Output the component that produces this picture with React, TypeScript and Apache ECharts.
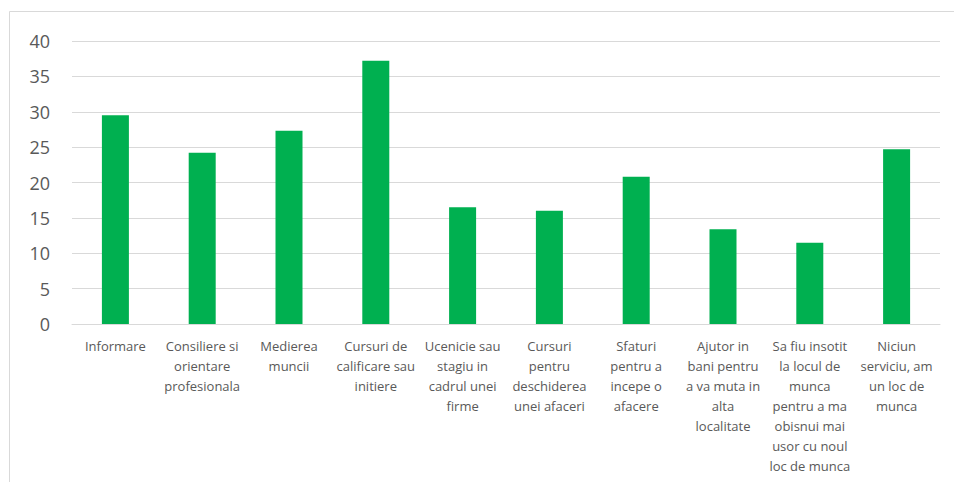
import React, { useEffect, useRef } from "react";
import * as echarts from "echarts";

const categories = [
  "Informare",
  "Consiliere si\norientare\nprofesionala",
  "Medierea\nmuncii",
  "Cursuri de\ncalificare sau\ninitiere",
  "Ucenicie sau\nstagiu in\ncadrul unei\nfirme",
  "Cursuri\npentru\ndeschiderea\nunei afaceri",
  "Sfaturi\npentru a\nincepe o\nafacere",
  "Ajutor in\nbani pentru\na va muta in\nalta\nlocalitate",
  "Sa fiu insotit\nla locul de\nmunca\npentru a ma\nobisnui mai\nusor cu noul\nloc de munca",
  "Niciun\nserviciu, am\nun loc de\nmunca",
];

const values = [29.5, 24.2, 27.3, 37.2, 16.5, 16.0, 20.8, 13.4, 11.5, 24.7];

const yMin = 0;
const yMax = 40;
const yStep = 5;

export default function App() {
  const ref = useRef<HTMLDivElement>(null);
  useEffect(() => {
    if (!ref.current) return;
    const chart = echarts.init(ref.current, undefined, { renderer: "svg" });
    chart.setOption({
      animation: false,
      backgroundColor: "#ffffff",
      graphic: [
        {
          type: "rect",
          shape: { x: 9.5, y: 11.5, width: 1000, height: 600 },
          style: { fill: "none", stroke: "#d9d9d9", lineWidth: 1 },
          silent: true,
        },
      ],
      grid: { left: 72, right: 14, top: 41, bottom: 158, containLabel: false },
      xAxis: {
        type: "category",
        data: categories,
        axisLine: { show: true, lineStyle: { color: "#d9d9d9", width: 1 } },
        axisTick: { show: false },
        axisLabel: {
          interval: 0,
          color: "#595959",
          fontFamily: "Open Sans",
          fontSize: 13,
          lineHeight: 20,
          margin: 12,
          align: "center",
        },
      },
      yAxis: {
        type: "value",
        min: yMin,
        max: yMax,
        interval: yStep,
        axisLine: { show: false },
        axisTick: { show: false },
        splitLine: { lineStyle: { color: "#d9d9d9", width: 1 } },
        axisLabel: {
          color: "#595959",
          fontFamily: "Open Sans",
          fontSize: 18,
          margin: 22,
        },
      },
      series: [
        {
          type: "bar",
          data: values,
          barWidth: 27,
          itemStyle: { color: "#00b050" },
        },
      ],
    });
    return () => chart.dispose();
  }, []);
  return (
    <div
      ref={ref}
      style={{ position: "fixed", left: 0, top: 0, width: 954, height: 482 }}
    />
  );
}
